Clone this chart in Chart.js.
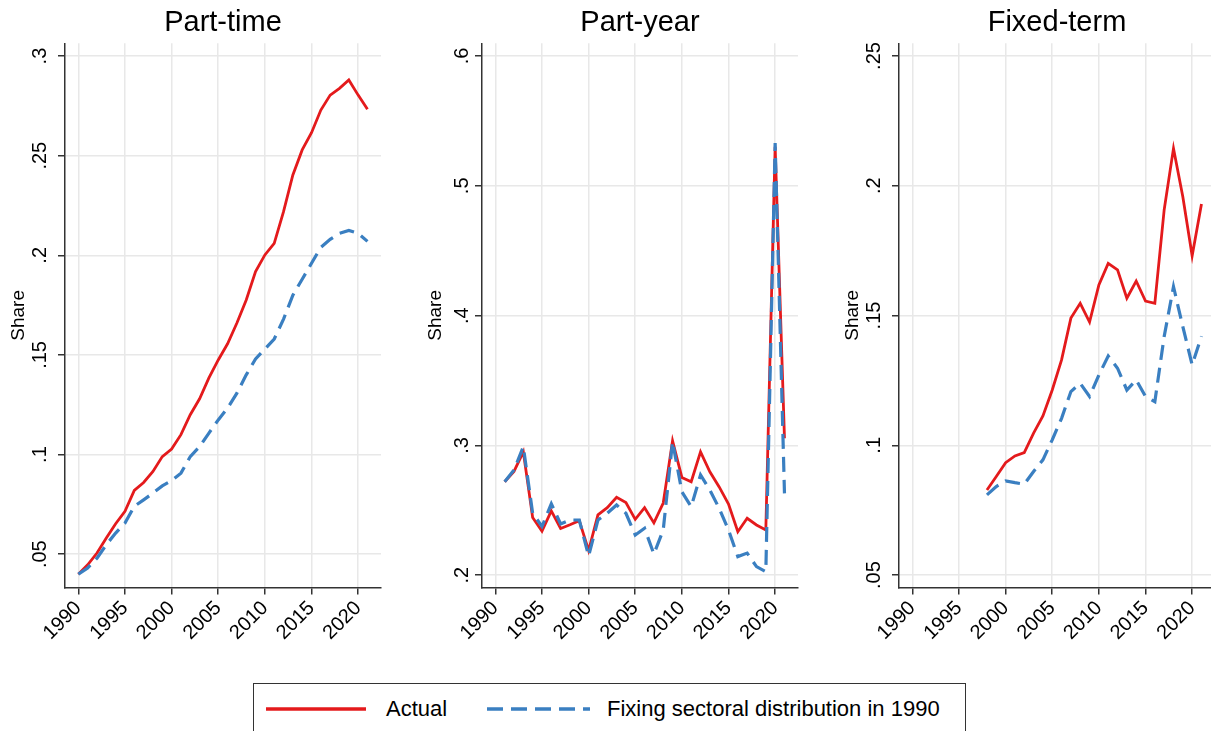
<!DOCTYPE html>
<html>
<head>
<meta charset="utf-8">
<script src="https://cdn.jsdelivr.net/npm/chart.js@4"></script>
<style>
  body { margin: 0; width: 1211px; height: 731px; overflow: hidden; background: #fff;
         font-family: "Liberation Sans", Arial, sans-serif; position: relative; }
  .panel { position: absolute; top: 0; width: 400px; height: 660px; }
  #legend { position: absolute; left: 253px; top: 683px; width: 713px; height: 50px;
            border: 1.5px solid #333; box-sizing: border-box; }
  #legend svg { position: absolute; top: 0; }
  #legend span { position: absolute; top: 12px; font-size: 22px; color: #000; line-height: 25px; }
</style>
</head>
<body>
<div class="panel" style="left:0"><canvas id="partTime" width="400" height="660"></canvas></div>
<div class="panel" style="left:417px"><canvas id="partYear" width="400" height="660"></canvas></div>
<div class="panel" style="left:834px"><canvas id="fixedTerm" width="400" height="660"></canvas></div>
<div id="legend">
  <svg width="110" height="50" style="left:10px"><line x1="2" y1="25" x2="102" y2="25" stroke="#e41a1c" stroke-width="3.5"/></svg>
  <span style="left:132px">Actual</span>
  <svg width="110" height="50" style="left:232px"><line x1="1" y1="25" x2="104" y2="25" stroke="#3a7fc1" stroke-width="3.5" stroke-dasharray="16 8"/></svg>
  <span style="left:353px">Fixing sectoral distribution in 1990</span>
</div>
<script>
// shares by year
const ptYears = [1990, 1991, 1992, 1993, 1994, 1995, 1996, 1997, 1998, 1999, 2000, 2001, 2002, 2003, 2004, 2005,
                 2006, 2007, 2008, 2009, 2010, 2011, 2012, 2013, 2014, 2015, 2016, 2017, 2018, 2019, 2020, 2021];
const ptActual = [.040, .0447, .0506, .0581, .0653, .0715, .082, .086, .0915, .099, .1028, .110, .120, .128, .1385, .1475,
                  .1556, .166, .1776, .1918, .2002, .206, .2219, .2403, .2529, .2615, .2729, .2804, .2838, .288, .2804, .2733];
const ptFixed = [.040, .0431, .048, .0548, .0606, .0656, .074, .0773, .0807, .0843, .0869, .0907, .099, .104, .1108, .1174,
                 .1233, .1308, .140, .148, .153, .158, .168, .180, .188, .196, .204, .208, .211, .2125, .211, .207];

const pyYears = [1991, 1992, 1993, 1994, 1995, 1996, 1997, 1998, 1999, 2000, 2001, 2002, 2003, 2004, 2005, 2006,
                 2007, 2008, 2009, 2010, 2011, 2012, 2013, 2014, 2015, 2016, 2017, 2018, 2019, 2020, 2021];
const pyActual = [.272, .280, .295, .2445, .2339, .2495, .236, .2388, .242, .219, .2465, .252, .260, .256, .243, .252,
                  .2403, .2556, .3035, .2753, .272, .295, .2797, .268, .2548, .2335, .2438, .2387, .2348, .530, .3055];
const pyFixed = [.272, .281, .299, .2477, .2375, .255, .2394, .2425, .2425, .2148, .2425, .2477, .2541, .2477, .231, .2361,
                 .2163, .2348, .3029, .2643, .2528, .2772, .2656, .2515, .2348, .2143, .217, .2066, .2027, .533, .263];

const ftYears = [1998, 1999, 2000, 2001, 2002, 2003, 2004, 2005, 2006, 2007, 2008, 2009,
                 2010, 2011, 2012, 2013, 2014, 2015, 2016, 2017, 2018, 2019, 2020, 2021];
const ftActual = [.0828, .088, .0933, .0959, .0972, .1047, .1113, .1213, .1329, .149, .1547, .1475,
                  .1618, .1701, .1676, .1567, .1633, .1556, .1547, .1907, .2144, .1958, .173, .193];
const ftFixed = [.0809, .0841, .0863, .0856, .085, .0899, .0944, .1021, .1104, .1207, .1239, .1188,
                 .1271, .1344, .1297, .1213, .1252, .1188, .1168, .1419, .1611, .1457, .131, .142];

// axis ticks
const yearTicks = [1990, 1995, 2000, 2005, 2010, 2015, 2020];
const ptTicks = [.05, .1, .15, .2, .25, .3];
const pyTicks = [.2, .3, .4, .5, .6];
const ftTicks = [.05, .1, .15, .2, .25];

const FONT = '"Liberation Sans", Arial, sans-serif';
const RED = '#e41a1c';
const BLUE = '#3a7fc1';
const AXIS = '#333';
const GRID = '#e8e8e8';

function points(years, vals) {
  return years.map((yr, i) => ({ x: yr, y: vals[i] }));
}

function makePanel(id, title, years, actual, fixed, yMin, yMax, yTicks) {
  new Chart(document.getElementById(id), {
    type: 'line',
    data: {
      datasets: [
        { label: 'Actual', data: points(years, actual), borderColor: RED, borderWidth: 2.8,
          pointRadius: 0, tension: 0, order: 2 },
        { label: 'Fixing sectoral distribution in 1990', data: points(years, fixed), borderColor: BLUE,
          borderWidth: 3.2, borderDash: [15, 8], pointRadius: 0, tension: 0, order: 1 }
      ]
    },
    options: {
      responsive: false,
      animation: false,
      layout: { padding: { right: 19 } },
      plugins: {
        legend: { display: false },
        tooltip: { enabled: false },
        title: { display: true, text: title, fullSize: false, color: '#000',
                 font: { family: FONT, size: 29, weight: 'normal' }, padding: { top: 6, bottom: 2.5 } }
      },
      scales: {
        x: {
          type: 'linear', min: 1988.57, max: 2022.45,
          afterBuildTicks: s => { s.ticks = yearTicks.map(v => ({ value: v })); },
          afterFit: s => { s.height = 72.5; },
          ticks: { minRotation: 45, maxRotation: 45, padding: 2, color: '#000',
                   font: { family: FONT, size: 20 }, callback: v => String(v) },
          grid: { color: GRID, lineWidth: 1.5, tickLength: 7, tickColor: AXIS, tickWidth: 1.5 },
          border: { color: AXIS, width: 1.5 }
        },
        y: {
          min: yMin, max: yMax,
          afterBuildTicks: s => { s.ticks = yTicks.map(v => ({ value: v })); },
          afterFit: s => { s.width = 65; },
          ticks: { minRotation: 90, maxRotation: 90, crossAlign: 'center', padding: 4, color: '#000',
                   font: { family: FONT, size: 20 }, callback: v => String(v).replace(/^0\./, '.') },
          title: { display: true, text: 'Share', color: '#000', font: { family: FONT, size: 19 },
                   padding: { top: 7, bottom: 0 } },
          grid: { color: GRID, lineWidth: 1.5, tickLength: 7, tickColor: AXIS, tickWidth: 1.5 },
          border: { color: AXIS, width: 1.5 }
        }
      }
    }
  });
}

makePanel('partTime', 'Part-time', ptYears, ptActual, ptFixed, .0333, .3064, ptTicks);
makePanel('partYear', 'Part-year', pyYears, pyActual, pyFixed, .1905, .6098, pyTicks);
makePanel('fixedTerm', 'Fixed-term', ftYears, ftActual, ftFixed, .0452, .2549, ftTicks);
</script>
</body>
</html>
